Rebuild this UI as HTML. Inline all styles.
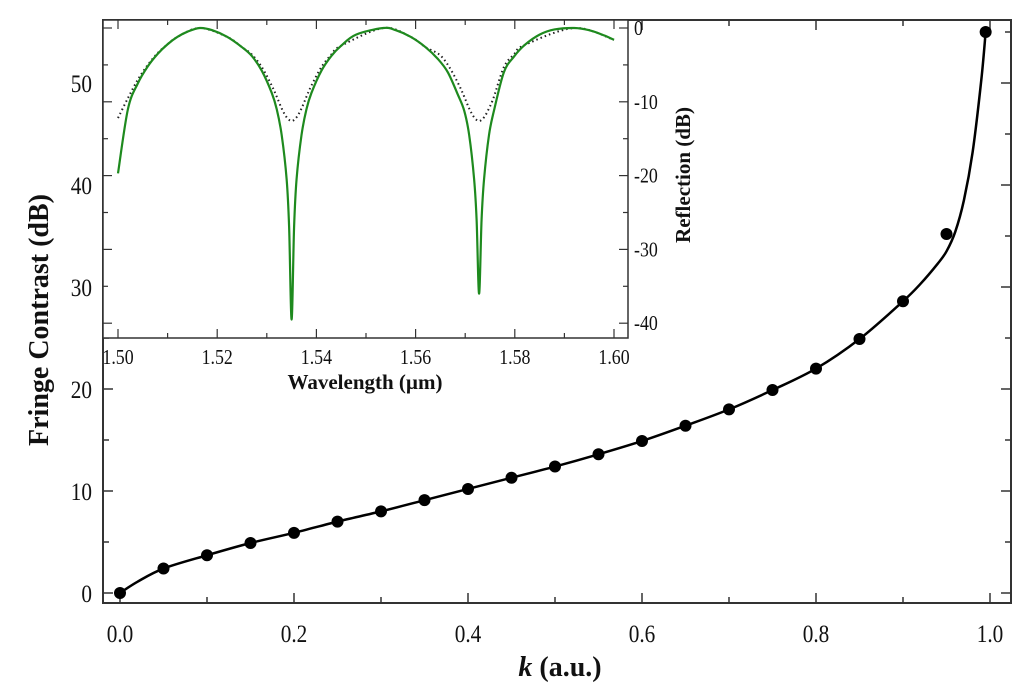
<!DOCTYPE html>
<html><head><meta charset="utf-8"><style>
html,body{margin:0;padding:0;background:#fff}
svg{display:block}
text{font-family:"Liberation Serif",serif;fill:#111}
</style></head><body>
<svg id="chart" width="1024" height="695" viewBox="0 0 1024 695"></svg>
<script>
// Main chart data
const kValues = [0,0.05,0.1,0.15,0.2,0.25,0.3,0.35,0.4,0.45,0.5,0.55,0.6,0.65,0.7,0.75,0.8,0.85,0.9,0.95,0.995];
const contrastValues = [0,2.4,3.7,4.9,5.9,7.0,8.0,9.1,10.2,11.3,12.4,13.6,14.9,16.4,18.0,19.9,22.0,24.9,28.6,35.2,55.0];
const fitK = [0,0.02,0.05,0.1,0.15,0.2,0.25,0.3,0.35,0.4,0.45,0.5,0.55,0.6,0.65,0.7,0.75,0.8,0.85,0.9,0.92,0.94,0.95,0.96,0.97,0.98,0.99,0.995];
const fitValues = [0,1.1,2.4,3.7,4.9,5.9,7.0,8.0,9.1,10.2,11.3,12.4,13.6,14.9,16.4,18.0,19.9,22.0,24.9,28.6,30.3,32.3,33.5,35.4,38.5,43.2,50.3,55.0];
const xTicks = [0,0.2,0.4,0.6,0.8,1.0];
const xTickLabels = ["0.0","0.2","0.4","0.6","0.8","1.0"];
const yTicks = [0,10,20,30,40,50];
const yTickLabels = ["0","10","20","30","40","50"];
// Inset data
const wl = [1.500,1.502,1.504,1.506,1.508,1.510,1.512,1.514,1.5165,1.519,1.522,1.525,1.527,1.529,1.531,1.532,1.533,1.534,1.5345,1.535,1.5355,1.536,1.537,1.538,1.539,1.541,1.543,1.545,1.548,1.5535,1.556,1.559,1.562,1.5645,1.5665,1.5685,1.5698,1.5708,1.5718,1.5723,1.5728,1.5733,1.5738,1.5748,1.5758,1.5778,1.5798,1.582,1.585,1.588,1.592,1.595,1.598,1.600];
const greenDb = [-19.7,-11,-7.5,-5.2,-3.5,-2.2,-1.2,-0.5,0,-0.3,-1.2,-2.6,-3.8,-5.8,-8.8,-11,-14.5,-20.5,-27,-39.5,-27,-20.5,-14.5,-11,-8.8,-5.8,-3.8,-2.4,-0.9,0,-0.3,-1.2,-2.6,-4.2,-6.0,-9.0,-11.2,-14.5,-20.5,-26,-36,-26,-20.5,-14.5,-11.2,-6.0,-3.9,-2.3,-0.9,-0.2,0,-0.3,-1.0,-1.6];
const dotWl = [1.500,1.502,1.504,1.506,1.508,1.510,1.512,1.5165,1.522,1.525,1.527,1.529,1.531,1.532,1.533,1.534,1.535,1.536,1.537,1.538,1.539,1.541,1.543,1.545,1.5535,1.559,1.562,1.5648,1.5668,1.5688,1.5698,1.5708,1.5718,1.5728,1.5738,1.5748,1.5758,1.5778,1.5798,1.582,1.592,1.600];
const dotDb = [-12.2,-9.5,-7.0,-5.0,-3.4,-2.2,-1.2,0,-1.2,-2.6,-3.6,-5.3,-7.8,-9.3,-10.9,-12.1,-12.6,-12.1,-10.9,-9.3,-7.8,-5.3,-3.6,-2.4,0,-1.2,-2.6,-3.6,-5.3,-7.8,-9.3,-10.9,-12.1,-12.6,-12.1,-10.9,-9.3,-5.3,-3.6,-2.3,0,-1.6];
const insetXTicks = [1.50,1.52,1.54,1.56,1.58,1.60];
const insetXLabels = ["1.50","1.52","1.54","1.56","1.58","1.60"];
const insetYTicks = [0,-10,-20,-30,-40];
const insetYLabels = ["0","-10","-20","-30","-40"];

const svg = document.getElementById('chart');
const NS = 'http://www.w3.org/2000/svg';
function mk(tag, attrs, parent){const e=document.createElementNS(NS,tag);for(const k in attrs)e.setAttribute(k,attrs[k]);(parent||svg).appendChild(e);return e;}

const X = v => 120 + v*870;
const Y = v => 593 - v*10.2;
const IX = v => 118 + (v-1.5)*4960;
const IY = v => 28 - v*7.38;

function smoothPath(pts){
  let d='M'+pts[0][0]+','+pts[0][1];
  for(let i=0;i<pts.length-1;i++){
    const p0=pts[Math.max(0,i-1)],p1=pts[i],p2=pts[i+1],p3=pts[Math.min(pts.length-1,i+2)];
    const c1x=p1[0]+(p2[0]-p0[0])/6,c1y=p1[1]+(p2[1]-p0[1])/6;
    const c2x=p2[0]-(p3[0]-p1[0])/6,c2y=p2[1]-(p3[1]-p1[1])/6;
    d+=` C${c1x},${c1y} ${c2x},${c2y} ${p2[0]},${p2[1]}`;
  }
  return d;
}
function condensed(t,x,y,sx){t.setAttribute('transform',`translate(${x},${y}) scale(${sx},1)`);}

// main frame
const frame = mk('rect',{x:103,y:20,width:908,height:583,fill:'none',stroke:'#333','stroke-width':2});



for(let v=0; v<=1.0001; v+=0.1){
  const major = Math.round(v*10)%2===0;
  const t = mk('line',{x1:X(v),x2:X(v),y1:603,y2:603-(major?10:6),stroke:'#333','stroke-width':1.5});
  
  
  const t2 = mk('line',{x1:X(v),x2:X(v),y1:20,y2:20+(major?10:6),stroke:'#333','stroke-width':1.5});
  
  
}
xTicks.forEach((v,i)=>{
  const t = mk('text',{x:0,y:0,'text-anchor':'middle','font-size':25});
  condensed(t,X(v),642,0.85);
  t.textContent = xTickLabels[i];
  
  
});
for(let v=0; v<=55; v+=5){
  const major = v%10===0;
  const a = mk('line',{x1:103,x2:103+(major?10:6),y1:Y(v),y2:Y(v),stroke:'#333','stroke-width':1.5});
  
  
  const b = mk('line',{x1:1011,x2:1011-(major?10:6),y1:Y(v),y2:Y(v),stroke:'#333','stroke-width':1.5});
  
  
}
yTicks.forEach((v,i)=>{
  const t = mk('text',{x:0,y:0,'text-anchor':'end','font-size':25});
  condensed(t,92,Y(v)+9,0.85);
  t.textContent = yTickLabels[i];
  
  
});

const fit = mk('path',{d:smoothPath(fitK.map((k,i)=>[X(k),Y(fitValues[i])])),fill:'none',stroke:'#000','stroke-width':2.5});


kValues.forEach((k,i)=>{
  const c = mk('circle',{cx:X(k),cy:Y(contrastValues[i]),r:6,fill:'#000'});
  
  
});

const yt = mk('text',{x:0,y:0,transform:'translate(48,320) rotate(-90)','text-anchor':'middle','font-size':28,'font-weight':'bold'});
yt.textContent='Fringe Contrast (dB)';


const xt = mk('text',{x:560,y:676,'text-anchor':'middle','font-size':28,'font-weight':'bold'});
xt.innerHTML='<tspan font-style="italic">k</tspan> (a.u.)';



// inset
const ib = mk('rect',{x:103,y:20,width:525,height:318,fill:'#fff',stroke:'#333','stroke-width':1.5});


for(let v=1.50; v<=1.6001; v+=0.01){
  const major = Math.round(v*100)%2===0;
  const a = mk('line',{x1:IX(v),x2:IX(v),y1:338,y2:338-(major?9:5),stroke:'#333','stroke-width':1.2});
  
  
  const b = mk('line',{x1:IX(v),x2:IX(v),y1:20,y2:20+(major?9:5),stroke:'#333','stroke-width':1.2});
  
  
}
insetXTicks.forEach((v,i)=>{
  const t = mk('text',{x:0,y:0,'text-anchor':'middle','font-size':21});
  condensed(t,IX(v),364,0.85);
  t.textContent=insetXLabels[i];
  
  
});
for(let v=0; v>=-40; v-=5){
  const major = v%10===0;
  const a = mk('line',{x1:628,x2:628-(major?9:5),y1:IY(v),y2:IY(v),stroke:'#333','stroke-width':1.2});
  
  
  const b = mk('line',{x1:103,x2:103+(major?9:5),y1:IY(v),y2:IY(v),stroke:'#333','stroke-width':1.2});
  
  
}
insetYTicks.forEach((v,i)=>{
  const t = mk('text',{x:0,y:0,'text-anchor':'start','font-size':21});
  condensed(t,634,IY(v)+7,0.85);
  t.textContent=insetYLabels[i];
  
  
});
const dot = mk('path',{d:smoothPath(dotWl.map((w,i)=>[IX(w),IY(dotDb[i])])),fill:'none',stroke:'#222','stroke-width':2,'stroke-dasharray':'1.5,3'});


const gr = mk('path',{d:smoothPath(wl.map((w,i)=>[IX(w),IY(greenDb[i])])),fill:'none',stroke:'#1e8a1e','stroke-width':2.2,'stroke-linejoin':'round'});


const it = mk('text',{x:365,y:389,'text-anchor':'middle','font-size':21,'font-weight':'bold'});
it.textContent='Wavelength (\u00b5m)';


const ry = mk('text',{x:0,y:0,transform:'translate(690,175) rotate(-90)','text-anchor':'middle','font-size':21,'font-weight':'bold'});
ry.textContent='Reflection (dB)';


</script>
</body></html>
